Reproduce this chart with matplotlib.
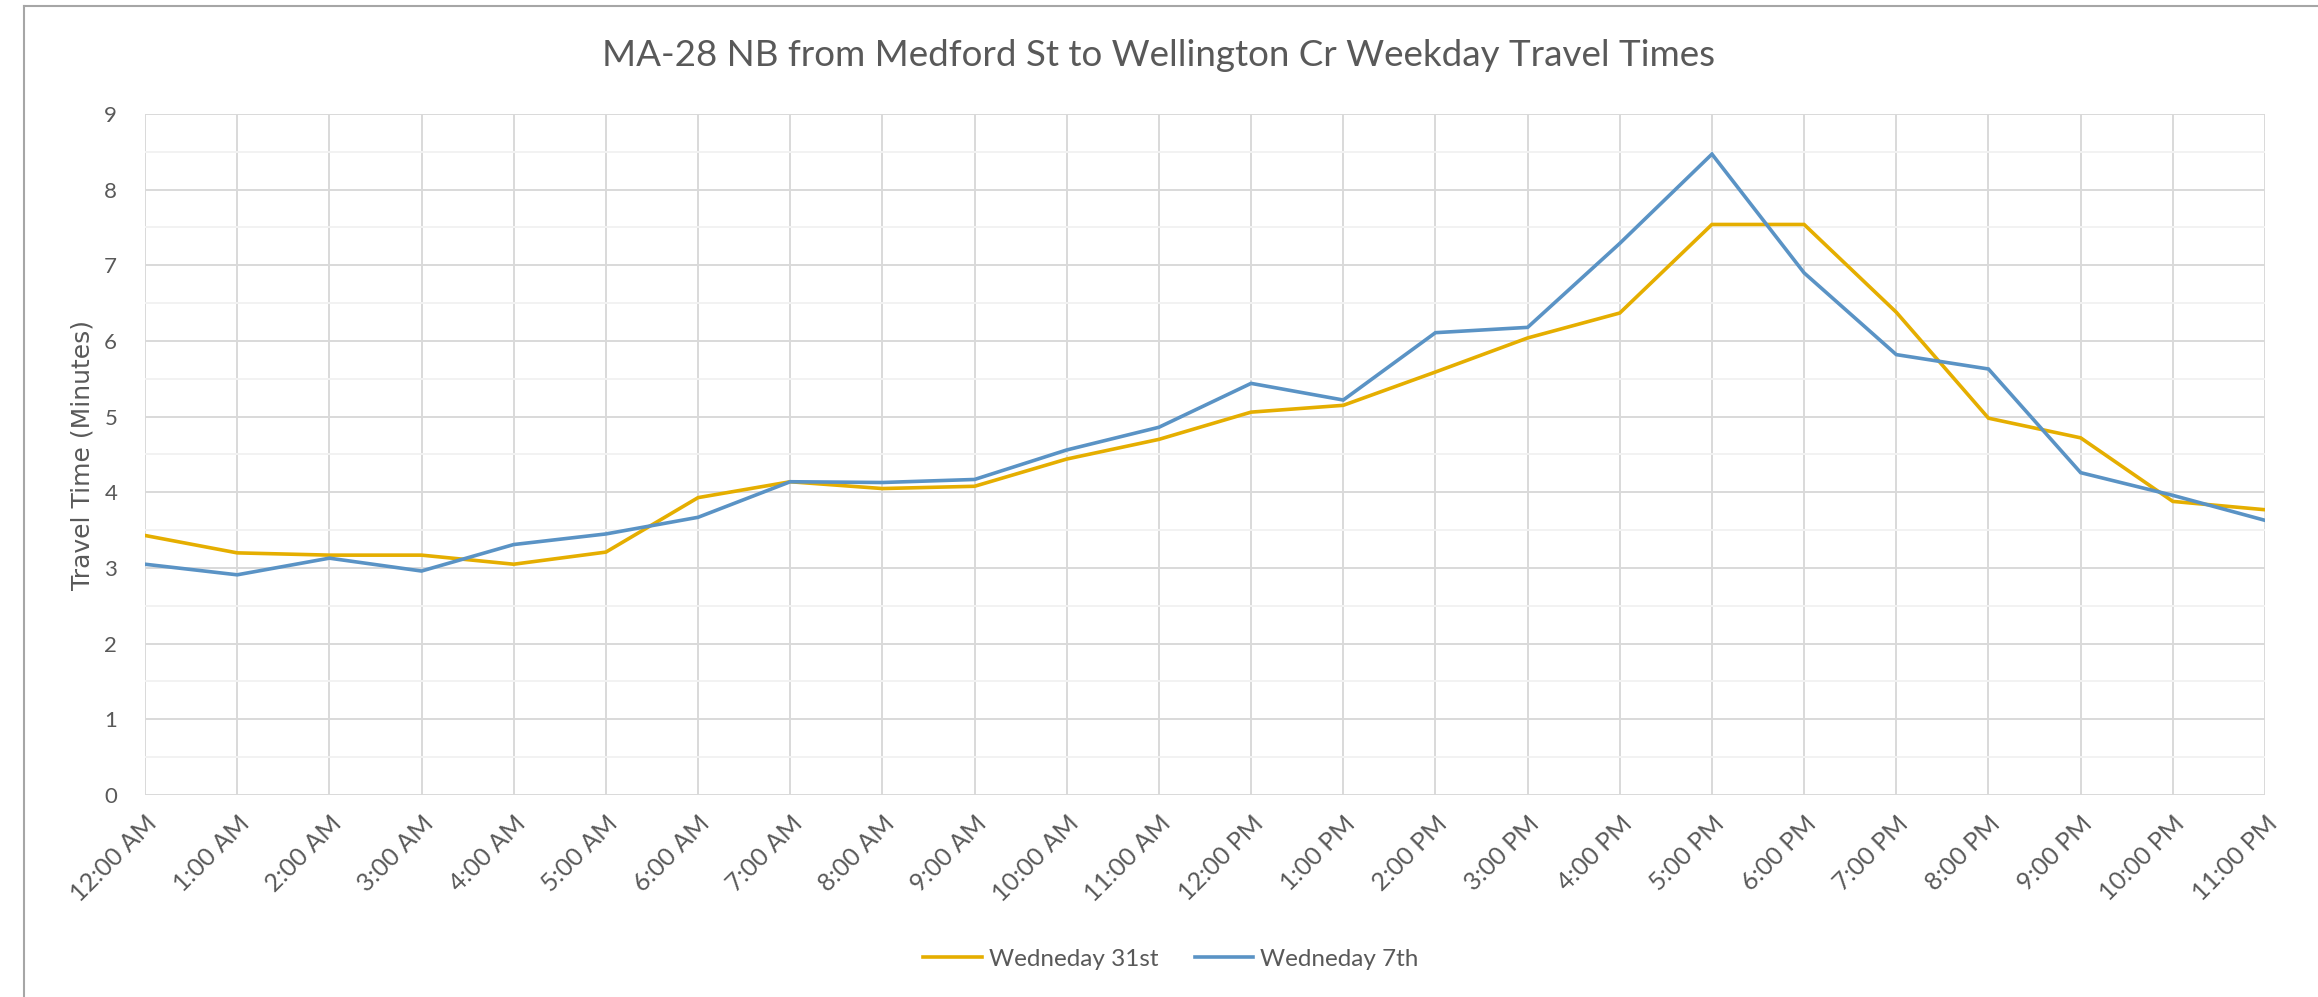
import matplotlib.pyplot as plt
import numpy as np
from matplotlib.lines import Line2D

# Hour labels along the x axis
hours = ["12:00 AM", "1:00 AM", "2:00 AM", "3:00 AM", "4:00 AM", "5:00 AM",
         "6:00 AM", "7:00 AM", "8:00 AM", "9:00 AM", "10:00 AM", "11:00 AM",
         "12:00 PM", "1:00 PM", "2:00 PM", "3:00 PM", "4:00 PM", "5:00 PM",
         "6:00 PM", "7:00 PM", "8:00 PM", "9:00 PM", "10:00 PM", "11:00 PM"]

# Travel times in minutes
wed_31st = [3.43, 3.20, 3.17, 3.17, 3.05, 3.21, 3.93, 4.14, 4.05, 4.08,
            4.44, 4.70, 5.06, 5.15, 5.59, 6.04, 6.37, 7.54, 7.54, 6.38,
            4.98, 4.72, 3.88, 3.77]
wed_7th = [3.05, 2.91, 3.13, 2.96, 3.31, 3.45, 3.67, 4.14, 4.13, 4.17,
           4.56, 4.86, 5.44, 5.22, 6.11, 6.18, 7.29, 8.47, 6.90, 5.82,
           5.63, 4.26, 3.96, 3.63]

series_names = ["Wedneday 31st", "Wedneday 7th"]
series_colors = ["#E5AE00", "#5A93C5"]

text_color = "#595959"
plt.rcParams['font.family'] = ['Lato', 'DejaVu Sans']

W, H = 2318, 997
fig = plt.figure(figsize=(W / 100, H / 100), dpi=100)
ax = fig.add_axes([145 / W, 1 - 795 / H, (2265 - 145) / W, (795 - 114) / H])

x = np.arange(len(hours))
for vals, name, col in zip([wed_31st, wed_7th], series_names, series_colors):
    ax.plot(x, vals, color=col, lw=2.6, label=name, solid_joinstyle='miter',
            zorder=3)

ax.set_xlim(0, len(hours) - 1)
ax.set_ylim(0, 9)
ax.set_yticks(np.arange(0, 10, 1))
ax.set_yticks(np.arange(0.5, 9, 1), minor=True)
ax.set_xticks(x)
ax.set_xticklabels(hours, rotation=45, ha='right', rotation_mode='anchor')

# Excel-like grid
ax.grid(which='major', axis='both', color='#D9D9D9', lw=1.4, zorder=0)
ax.grid(which='minor', axis='y', color='#F2F2F2', lw=1.4, zorder=0)
for s in ax.spines.values():
    s.set_visible(False)
ax.tick_params(which='both', length=0)
ax.tick_params(axis='y', labelsize=16, labelcolor=text_color, pad=20)
ax.tick_params(axis='x', labelsize=18, labelcolor=text_color, pad=12)

ax.set_ylabel("Travel Time (Minutes)", fontsize=18, color=text_color,
              family=['DejaVu Sans'], labelpad=7)

fig.text(0.5, 1 - 56 / H,
         "MA-28 NB from Medford St to Wellington Cr Weekday Travel Times",
         ha='center', va='center', fontsize=26.5, color=text_color)

leg = fig.legend(loc='center', bbox_to_anchor=(0.5 + 12 / W, 1 - 959 / H),
                 ncol=2, frameon=False, fontsize=17.5, handlelength=2.4,
                 columnspacing=1.5, handletextpad=0.3)
for t in leg.get_texts():
    t.set_color(text_color)

# chart area border (cropped at right and bottom)
fig.add_artist(Line2D([24 / W, 1.0], [1 - 6 / H, 1 - 6 / H],
                      color='#A6A6A6', lw=1.5, transform=fig.transFigure))
fig.add_artist(Line2D([24 / W, 24 / W], [0, 1 - 6 / H],
                      color='#A6A6A6', lw=1.5, transform=fig.transFigure))

fig.savefig("out.png", dpi=100)
